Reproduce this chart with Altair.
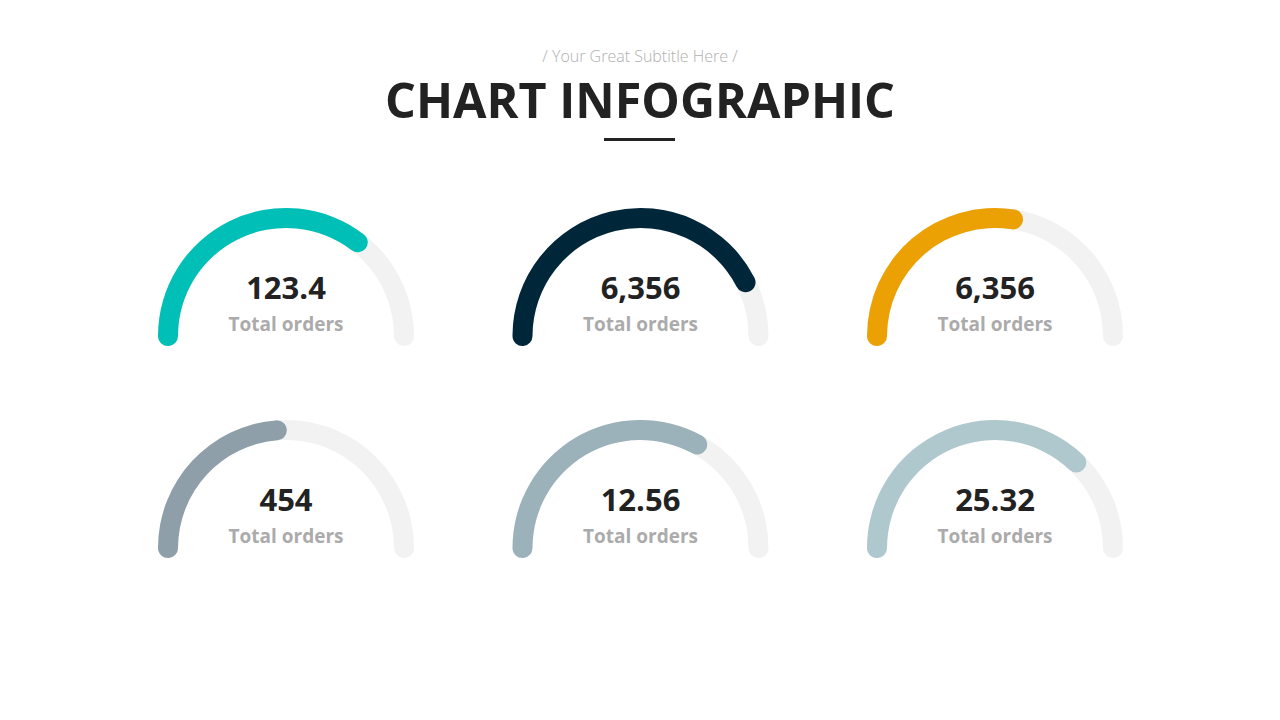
import math
import altair as alt
import pandas as pd

# ---- data ----
cols = [0, 1, 2, 0, 1, 2]
rows = [0, 0, 0, 1, 1, 1]
labels = ["123.4", "6,356", "6,356", "454", "12.56", "25.32"]
fractions = [0.723, 0.857, 0.572, 0.502, 0.677, 0.755]
colors = ["#00BFB6", "#00263A", "#EBA104", "#8E9FAA", "#9CB2BA", "#AFC8CE"]
caption = "Total orders"
title_text = "CHART INFOGRAPHIC"
subtitle_text = "/ Your Great Subtitle Here /"

df = pd.DataFrame({
    "col": cols,
    "row": rows,
    "label": labels,
    "frac": fractions,
    "color": colors,
    "start": [0.0] * 6,
    "full": [1.0] * 6,
    "caption": [caption] * 6,
})
tdf = pd.DataFrame({"title": [title_text], "subtitle": [subtitle_text]})

ext = 0.085
xs = alt.Scale(domain=[0, 2], range=[278, 987])
ys = alt.Scale(domain=[0, 1], range=[328, 540])
ts = alt.Scale(domain=[0, 1], range=[1.5 * math.pi - ext, 2.5 * math.pi + ext])

X = alt.X("col:Q", scale=xs, axis=None)
Y = alt.Y("row:Q", scale=ys, axis=None)

base = alt.Chart(df)

bg = base.mark_arc(innerRadius=108, outerRadius=128, cornerRadius=10, color="#F2F2F2").encode(
    x=X, y=Y,
    theta=alt.Theta("start:Q", scale=ts, stack=None),
    theta2="full:Q",
)

fg = base.mark_arc(innerRadius=108, outerRadius=128, cornerRadius=10).encode(
    x=X, y=Y,
    theta=alt.Theta("start:Q", scale=ts, stack=None),
    theta2="frac:Q",
    color=alt.Color("color:N", scale=None),
)

val = base.mark_text(font="Open Sans", fontWeight="bold", fontSize=31, color="#222222",
                     baseline="alphabetic", align="center", dy=-37).encode(
    x=X, y=Y, text="label:N")

cap = base.mark_text(font="Open Sans", fontWeight="bold", fontSize=19, color="#ABABAB",
                     baseline="alphabetic", align="center", dy=-5).encode(
    x=X, y=Y, text="caption:N")

tbase = alt.Chart(tdf)
title = tbase.mark_text(font="Open Sans", fontWeight="bold", fontSize=48.5, color="#222222",
                        baseline="alphabetic", align="center").encode(
    x=alt.value(632), y=alt.value(110), text="title:N")
subtitle = tbase.mark_text(font="Open Sans", fontWeight=300, fontSize=16, color="#B0B0B0",
                           baseline="alphabetic", align="center").encode(
    x=alt.value(632), y=alt.value(54), text="subtitle:N")
underline = tbase.mark_rule(color="#222222", strokeWidth=3).encode(
    x=alt.value(596), x2=alt.value(667), y=alt.value(131.5))

chart = alt.layer(bg, fg, val, cap, title, subtitle, underline).properties(
    width=1264, height=704,
    autosize=alt.AutoSizeParams(type="none"),
    padding=0,
    background="#FFFFFF",
).configure_view(strokeWidth=0)

chart.save("out.html", embed_options={"renderer": "svg", "actions": False})
